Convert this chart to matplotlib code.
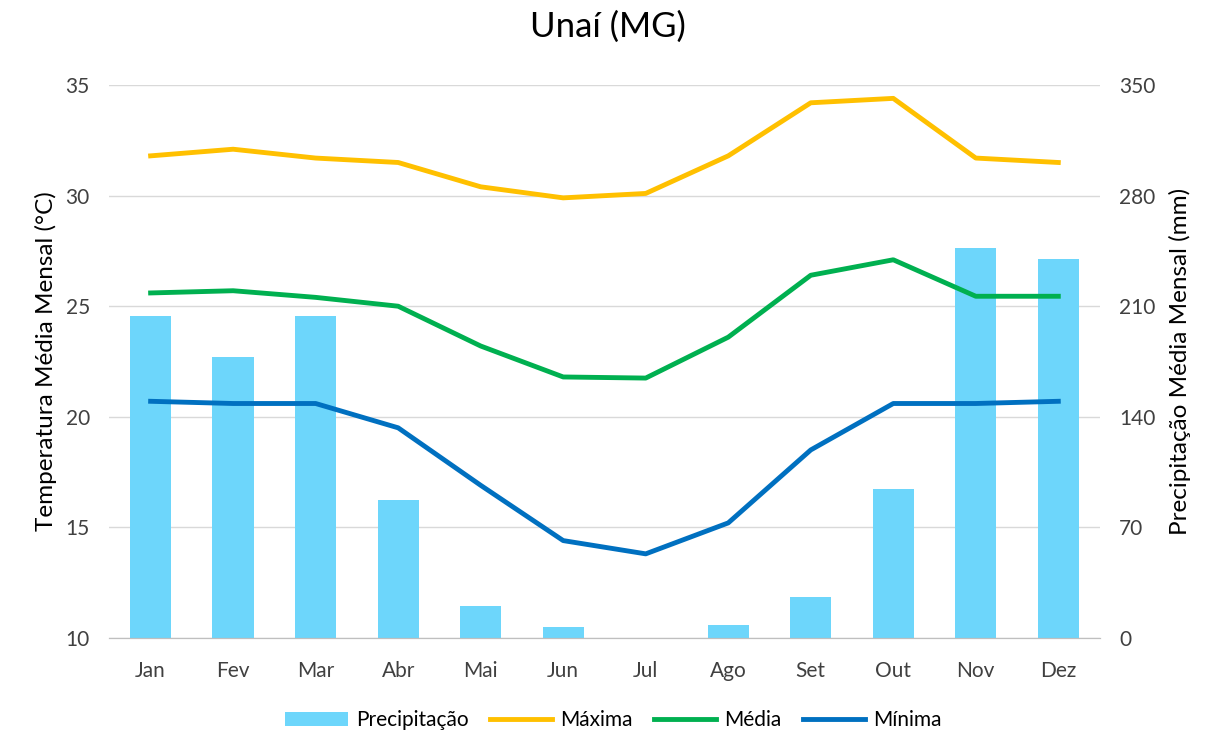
import matplotlib.pyplot as plt
import numpy as np

plt.rcParams['font.family'] = ['Lato', 'DejaVu Sans']

# dados
meses = ['Jan', 'Fev', 'Mar', 'Abr', 'Mai', 'Jun', 'Jul', 'Ago', 'Set', 'Out', 'Nov', 'Dez']
precipitacao = [204, 178, 204, 87, 20, 7, 0, 8, 26, 94, 247, 240]
maxima = [31.8, 32.1, 31.7, 31.5, 30.4, 29.9, 30.1, 31.8, 34.2, 34.4, 31.7, 31.5]
media = [25.6, 25.7, 25.4, 25.0, 23.2, 21.8, 21.75, 23.6, 26.4, 27.1, 25.45, 25.45]
minima = [20.7, 20.6, 20.6, 19.5, 16.9, 14.4, 13.8, 15.2, 18.5, 20.6, 20.6, 20.7]

x = np.arange(len(meses))

fig = plt.figure(figsize=(12.15, 7.4), dpi=100)
ax = fig.add_axes([0.09, 0.138, 0.815, 0.747])
ax2 = ax.twinx()

# barras no eixo da direita
barras = ax2.bar(x, precipitacao, width=0.5, color='#6DD6FB', label='Precipitação', zorder=2)
ax2.set_ylim(0, 350)
ax2.set_yticks([0, 70, 140, 210, 280, 350])
ax2.set_ylabel('Precipitação Média Mensal (mm)', fontsize=17.5, labelpad=10)

# linhas no eixo da esquerda
l1, = ax.plot(x, maxima, color='#FFC000', lw=3.5, label='Máxima', zorder=3)
l2, = ax.plot(x, media, color='#00B050', lw=3.5, label='Média', zorder=3)
l3, = ax.plot(x, minima, color='#0070C0', lw=3.5, label='Mínima', zorder=3)
ax.set_ylim(10, 35)
ax.set_yticks([10, 15, 20, 25, 30, 35])
ax.set_ylabel('Temperatura Média Mensal (°C)', fontsize=17.5, labelpad=6)
ax.set_xlim(-0.5, 11.5)
ax.set_xticks(x)
ax.set_xticklabels(meses)

ax.set_zorder(ax2.get_zorder() + 1)
ax.patch.set_visible(False)
ax2.grid(axis='y', color='#D9D9D9', lw=1)
ax2.set_axisbelow(True)

for a in (ax, ax2):
    for s in ['top', 'left', 'right']:
        a.spines[s].set_visible(False)
    a.spines['bottom'].set_color('#BFBFBF')
    a.tick_params(length=0, labelsize=15, colors='#404040', pad=14)
ax.tick_params(axis='x', pad=17)

fig.suptitle('Unaí (MG)', fontsize=25, y=0.985)

fig.legend(handles=[barras, l1, l2, l3], loc='lower center', ncol=4,
           bbox_to_anchor=(0.505, -0.012), frameon=False, fontsize=15,
           handlelength=3.0, columnspacing=1.0, handletextpad=0.4)

plt.savefig('out.png', dpi=100)
